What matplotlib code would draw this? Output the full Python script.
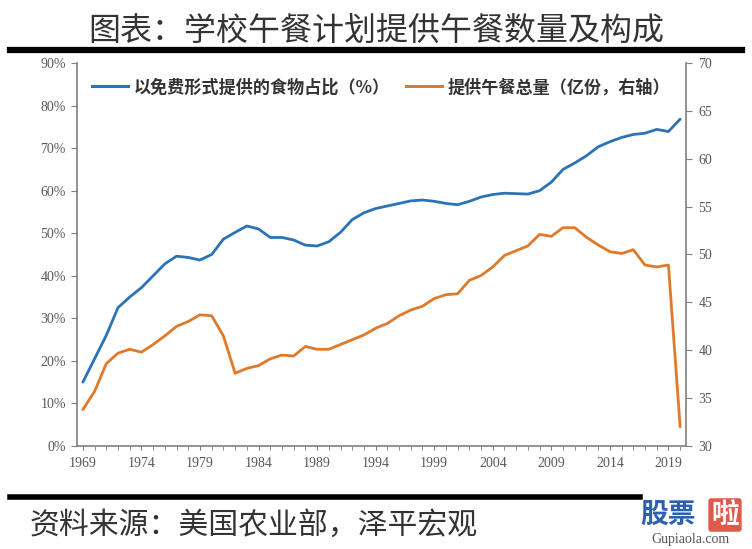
import matplotlib
matplotlib.use("Agg")
import matplotlib.pyplot as plt
from matplotlib.lines import Line2D
from matplotlib.ticker import FuncFormatter, MultipleLocator

plt.rcParams['font.family'] = ['Noto Sans CJK SC', 'DejaVu Sans']

years = list(range(1969, 2021))
free_share = [15.0, 20.5, 26.0, 32.5, 35.0, 37.2, 40.0, 42.8, 44.6, 44.3,
              43.7, 45.0, 48.6, 50.2, 51.7, 51.0, 49.0, 49.0, 48.4, 47.2,
              47.0, 48.0, 50.2, 53.2, 54.8, 55.8, 56.4, 57.0, 57.6, 57.8,
              57.5, 57.0, 56.7, 57.5, 58.5, 59.1, 59.4, 59.3, 59.2, 60.0,
              62.0, 65.0, 66.5, 68.2, 70.3, 71.5, 72.5, 73.2, 73.5, 74.4,
              73.9, 76.8]
total_lunches = [33.8, 35.7, 38.6, 39.7, 40.1, 39.8, 40.6, 41.5, 42.5, 43.0,
                 43.7, 43.6, 41.5, 37.6, 38.1, 38.4, 39.1, 39.5, 39.4, 40.4,
                 40.1, 40.1, 40.6, 41.1, 41.6, 42.3, 42.8, 43.6, 44.2, 44.6,
                 45.4, 45.8, 45.9, 47.3, 47.8, 48.7, 49.9, 50.4, 50.9, 52.1,
                 51.9, 52.8, 52.8, 51.8, 51.0, 50.3, 50.1, 50.5, 48.9, 48.7,
                 48.9, 32.0]
xtick_years = [1969, 1974, 1979, 1984, 1989, 1994, 1999, 2004, 2009, 2014, 2019]

title = "图表：学校午餐计划提供午餐数量及构成"
label_blue = "以免费形式提供的食物占比（%）"
label_orange = "提供午餐总量（亿份，右轴）"
source = "资料来源：美国农业部，泽平宏观"

BLUE = "#2B73B4"
ORANGE = "#E07A2A"
GRAY = "#7F7F7F"
TICKC = "#595959"

fig = plt.figure(figsize=(7.52, 5.49), dpi=100)
ax = fig.add_axes([77/752, 1-446/549, (686-77)/752, (446-63)/549])
ax2 = ax.twinx()

ax.plot(years, [v/100 for v in free_share], color=BLUE, lw=2.0, solid_capstyle='round')
ax2.plot(years, total_lunches, color=ORANGE, lw=2.0, solid_capstyle='round')

ax.set_xlim(1968.5, 2020.5)
ax.set_ylim(0, 0.9)
ax2.set_ylim(30, 70)
ax.yaxis.set_major_locator(MultipleLocator(0.1))
ax.yaxis.set_major_formatter(FuncFormatter(lambda v, p: f"{v*100:.0f}%"))
ax2.yaxis.set_major_locator(MultipleLocator(5))
ax.set_xticks(xtick_years)
ax.set_xticks(years, minor=True)

for a in (ax, ax2):
    a.spines['top'].set_visible(False)
    for s in ('left', 'right', 'bottom'):
        a.spines[s].set_color(GRAY)
        a.spines[s].set_linewidth(1.2)
ax.spines['right'].set_visible(False)
ax2.spines['left'].set_visible(False)
ax2.spines['bottom'].set_visible(False)

ax.tick_params(axis='y', direction='out', length=4, color=GRAY, labelcolor=TICKC, pad=4)
ax2.tick_params(axis='y', direction='out', length=4, color=GRAY, labelcolor=TICKC, pad=5)
ax.tick_params(axis='x', which='both', direction='out', length=3, color=GRAY, labelcolor=TICKC, pad=5)
for lab in ax.get_yticklabels() + ax2.get_yticklabels() + ax.get_xticklabels():
    lab.set_fontfamily('Liberation Serif')
    lab.set_fontsize(10)

handles = [Line2D([], [], color=BLUE, lw=2.2), Line2D([], [], color=ORANGE, lw=2.2)]
leg = ax.legend(handles, [label_blue, label_orange], loc='upper left',
                bbox_to_anchor=(0.0, 1.0), ncol=2, frameon=False,
                prop={'family': ['Noto Sans CJK SC', 'DejaVu Sans'], 'size': 12.3, 'weight': 'bold'},
                handlelength=2.1, handletextpad=0.35, columnspacing=0.9)
for t in leg.get_texts():
    t.set_color("#333333")

fig.text(376/752, 1-31/549, title, ha='center', va='center', fontsize=23,
         color='#333333', fontweight='light')
fig.add_artist(Line2D([10/752, 742/752], [1-50/549, 1-50/549], color='black', lw=4.5))
fig.add_artist(Line2D([10/752, 640/752], [1-497/549, 1-497/549], color='black', lw=4.0))
fig.text(30/752, 1-525/549, source, ha='left', va='center', fontsize=21.5, color='#333333',
         fontweight='light')

# watermark
fig.text(668/752, 1-515/549, "股票", ha='center', va='center', fontsize=20,
         color='#2F5FB0', fontweight='bold')
fig.text(725/752, 1-515/549, "啦", ha='center', va='center', fontsize=20,
         color='white', fontweight='bold',
         bbox=dict(boxstyle='round,pad=0.1', fc='#E05A4A', ec='none'))
fig.text(690/752, 1-539/549, "Gupiaola.com", ha='center', va='center', fontsize=10,
         color='#555555', family='Liberation Serif')

fig.savefig("out.png", dpi=100)
